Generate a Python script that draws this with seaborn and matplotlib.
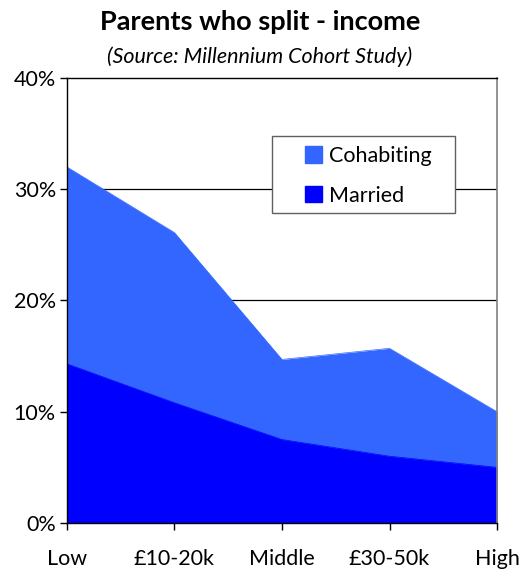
import matplotlib
matplotlib.use("Agg")
import matplotlib.pyplot as plt
import seaborn as sns
import pandas as pd
from matplotlib.patches import Patch, Rectangle

categories = ["Low", "£10-20k", "Middle", "£30-50k", "High"]
cohabiting = [32.0, 26.1, 14.7, 15.7, 10.0]
married = [14.3, 10.8, 7.5, 6.0, 5.0]

df = pd.DataFrame({"pos": range(len(categories)), "Cohabiting": cohabiting, "Married": married})

sns.set_style("white")
plt.rcParams["font.family"] = ["Lato", "DejaVu Sans"]
plt.rcParams["text.color"] = "black"
plt.rcParams["xtick.color"] = "black"
plt.rcParams["ytick.color"] = "black"

fig = plt.figure(figsize=(5.2, 5.72), dpi=100)
ax = fig.add_axes([0.1288, 0.0857, 0.827, 0.778])

for y in [10, 20, 30]:
    ax.axhline(y, color="black", lw=0.9, zorder=0)

ax.fill_between(df["pos"], 0, df["Cohabiting"], color="#3366ff", lw=0, zorder=1)
ax.fill_between(df["pos"], 0, df["Married"], color="#0000ff", lw=0, zorder=2)
sns.lineplot(data=df, x="pos", y="Cohabiting", color="#3366ff", lw=0.5, ax=ax, zorder=1)
sns.lineplot(data=df, x="pos", y="Married", color="#0000ff", lw=0.5, ax=ax, zorder=2)

ax.set_xlim(0, len(categories) - 1)
ax.set_ylim(0, 40)
ax.set_xticks(range(len(categories)))
ax.set_xticklabels(categories)
ax.set_yticks([0, 10, 20, 30, 40])
ax.set_yticklabels([f"{v}%" for v in [0, 10, 20, 30, 40]])
ax.set_xlabel("")
ax.set_ylabel("")
ax.tick_params(axis="x", direction="out", length=5, width=1, pad=14, labelsize=15.5,
               color="black", labelcolor="black", bottom=True)
ax.tick_params(axis="y", direction="out", length=5, width=1, pad=3, labelsize=15.5,
               color="black", labelcolor="black", left=True)

for side in ["left", "bottom", "top"]:
    ax.spines[side].set_color("black")
    ax.spines[side].set_linewidth(1)
ax.spines["right"].set_color("#808080")
ax.spines["right"].set_linewidth(1.2)

# legend box drawn separately so the padding can be wider than tall
ax.add_patch(Rectangle((0.477, 0.6966), 0.425, 0.1731, transform=ax.transAxes,
                       facecolor="white", edgecolor="#606060", lw=1, zorder=4))
handles = [Patch(color="#3366ff", label="Cohabiting"), Patch(color="#0000ff", label="Married")]
leg = ax.legend(handles=handles, loc="center left", bbox_to_anchor=(0.5535, 0.78),
                frameon=False, fontsize=15.5, labelcolor="black",
                handlelength=0.8, handleheight=0.8, handletextpad=0.3,
                borderpad=0, labelspacing=0.9, borderaxespad=0)
leg.set_zorder(5)

fig.text(0.5, 0.962, "Parents who split - income", ha="center", va="center",
         fontsize=19.5, fontweight="bold", color="black")
fig.text(0.5, 0.900, "(Source: Millennium Cohort Study)", ha="center", va="center",
         fontsize=15.5, style="italic", color="black")

fig.savefig("out.png", dpi=100)
